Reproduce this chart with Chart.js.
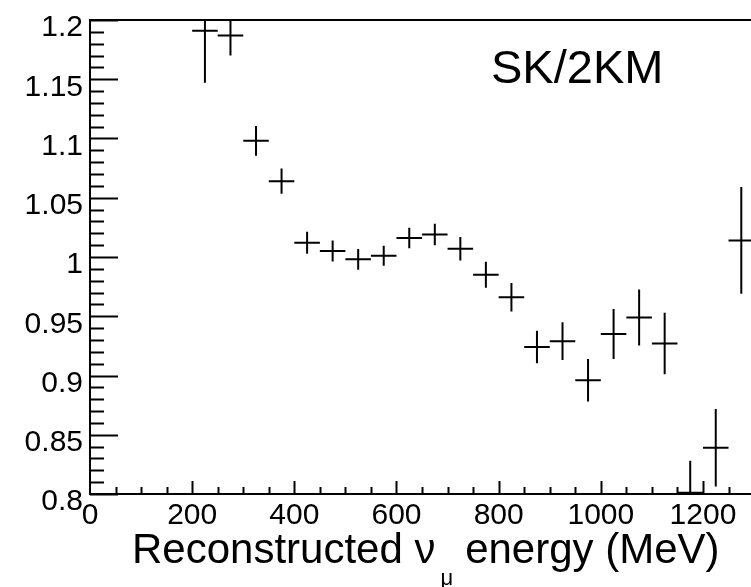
<!DOCTYPE html>
<html>
<head>
<meta charset="utf-8">
<script src="https://cdn.jsdelivr.net/npm/chart.js@4/dist/chart.umd.min.js"></script>
<style>
  html, body { margin: 0; padding: 0; background: #fff; }
  canvas { display: block; }
</style>
</head>
<body>
<canvas id="ratioChart" width="751" height="587"></canvas>
<script>
// ==========================
// DATA
// ==========================
const energyBins  = [225, 275, 325, 375, 425, 475, 525, 575, 625, 675, 725,
                     775, 825, 875, 925, 975, 1025, 1075, 1125, 1175, 1225, 1275];
const ratioValues = [1.191, 1.187, 1.098, 1.064, 1.012, 1.005, 0.998, 1.001, 1.016, 1.019, 1.007,
                     0.985, 0.966, 0.924, 0.929, 0.896, 0.935, 0.949, 0.927, 0.801, 0.839, 1.014];
const ratioErrors = [0.044, 0.017, 0.0125, 0.0107, 0.0093, 0.0089, 0.0087, 0.0084, 0.0087, 0.009, 0.0099,
                     0.011, 0.012, 0.0137, 0.016, 0.0179, 0.0211, 0.0236, 0.026, 0.027, 0.0327, 0.045];
const binWidth = 50;

const xTicks = [0, 200, 400, 600, 800, 1000, 1200];
const xTickLabels = ['0', '200', '400', '600', '800', '1000', '1200'];
const yTicks = [0.8, 0.85, 0.9, 0.95, 1, 1.05, 1.1, 1.15, 1.2];
const yTickLabels = ['0.8', '0.85', '0.9', '0.95', '1', '1.05', '1.1', '1.15', '1.2'];

const FONT = "'Liberation Sans', Arial, Helvetica, sans-serif";

// ==========================
// ROOT STYLE: error crosses, inner ticks, frame, texts
// ==========================
const rootStyle = {
  id: 'rootStyle',
  afterDatasetsDraw(chart) {
    const {ctx, chartArea: a, scales: {x, y}} = chart;
    ctx.save();
    ctx.beginPath();
    ctx.rect(a.left, a.top - 1, a.right - a.left, a.bottom - a.top + 2);
    ctx.clip();
    ctx.strokeStyle = '#000';
    ctx.lineWidth = 2;
    energyBins.forEach((e, i) => {
      const px = x.getPixelForValue(e);
      const py = y.getPixelForValue(ratioValues[i]);
      ctx.beginPath();
      ctx.moveTo(x.getPixelForValue(e - binWidth / 2), py);
      ctx.lineTo(x.getPixelForValue(e + binWidth / 2), py);
      ctx.moveTo(px, y.getPixelForValue(ratioValues[i] + ratioErrors[i]));
      ctx.lineTo(px, y.getPixelForValue(ratioValues[i] - ratioErrors[i]));
      ctx.stroke();
    });
    ctx.restore();
  },
  afterDraw(chart) {
    const {ctx, chartArea: a, scales: {x, y}} = chart;
    ctx.save();
    ctx.strokeStyle = '#000';
    ctx.lineWidth = 2;

    // top frame line
    ctx.beginPath();
    ctx.moveTo(a.left, a.top);
    ctx.lineTo(a.right, a.top);
    ctx.stroke();

    // y ticks (inside)
    ctx.beginPath();
    for (let k = 0; k <= 40; k++) {
      const v = 0.8 + k * 0.01;
      const py = Math.round(y.getPixelForValue(v)) + 0.5;
      const len = (k % 5 === 0) ? 28 : 14;
      ctx.moveTo(a.left, py);
      ctx.lineTo(a.left + len, py);
    }
    ctx.stroke();

    // x ticks (inside)
    ctx.beginPath();
    for (let v = 50; v <= x.max; v += 50) {
      const px = Math.round(x.getPixelForValue(v)) + 0.5;
      const len = (v % 200 === 0) ? 13 : 7;
      ctx.moveTo(px, a.bottom);
      ctx.lineTo(px, a.bottom - len);
    }
    ctx.stroke();

    // label in the frame
    ctx.fillStyle = '#000';
    ctx.textBaseline = 'alphabetic';
    ctx.textAlign = 'left';
    ctx.font = '47px ' + FONT;
    ctx.fillText('SK/2KM', 491, 83);

    // axis title with subscript
    const startX = 132, base = 563;
    ctx.font = '42px ' + FONT;
    const part1 = 'Reconstructed \u03BD';
    ctx.fillText(part1, startX, base);
    const w1 = ctx.measureText(part1).width;
    ctx.font = '22px ' + FONT;
    const muX = startX + w1 + 5;
    ctx.fillText('\u03BC', muX, 585);
    const muW = ctx.measureText('\u03BC').width;
    ctx.font = '42px ' + FONT;
    ctx.fillText('energy (MeV)', muX + muW + 12, base);

    ctx.restore();
  }
};

// ==========================
// CHART
// ==========================
new Chart(document.getElementById('ratioChart'), {
  type: 'scatter',
  data: {
    datasets: [{
      data: energyBins.map((e, i) => ({x: e, y: ratioValues[i]})),
      pointRadius: 0,
      showLine: false
    }]
  },
  options: {
    responsive: false,
    animation: false,
    layout: { padding: { top: 20, right: 0, left: 0, bottom: 0 } },
    plugins: { legend: { display: false }, tooltip: { enabled: false } },
    scales: {
      x: {
        type: 'linear',
        min: 0,
        max: 1294,
        afterBuildTicks: s => { s.ticks = xTicks.map(v => ({value: v})); },
        afterFit: s => { s.height = 93; s.paddingLeft = 0; s.paddingRight = 0; },
        ticks: {
          font: { size: 30, family: FONT },
          color: '#000',
          padding: 4,
          maxRotation: 0,
          autoSkip: false,
          callback: (v, i) => xTickLabels[i]
        },
        grid: { display: true, drawOnChartArea: false, drawTicks: false },
        border: { display: true, color: '#000', width: 2 }
      },
      y: {
        min: 0.8,
        max: 1.2,
        afterBuildTicks: s => { s.ticks = yTicks.map(v => ({value: v})); },
        afterFit: s => { s.width = 90; s.paddingTop = 0; s.paddingBottom = 0; },
        ticks: {
          font: { size: 30, family: FONT },
          color: '#000',
          padding: 7,
          labelOffset: 8,
          autoSkip: false,
          callback: (v, i) => yTickLabels[i]
        },
        grid: { display: true, drawOnChartArea: false, drawTicks: false },
        border: { display: true, color: '#000', width: 2 }
      }
    }
  },
  plugins: [rootStyle]
});
</script>
</body>
</html>
